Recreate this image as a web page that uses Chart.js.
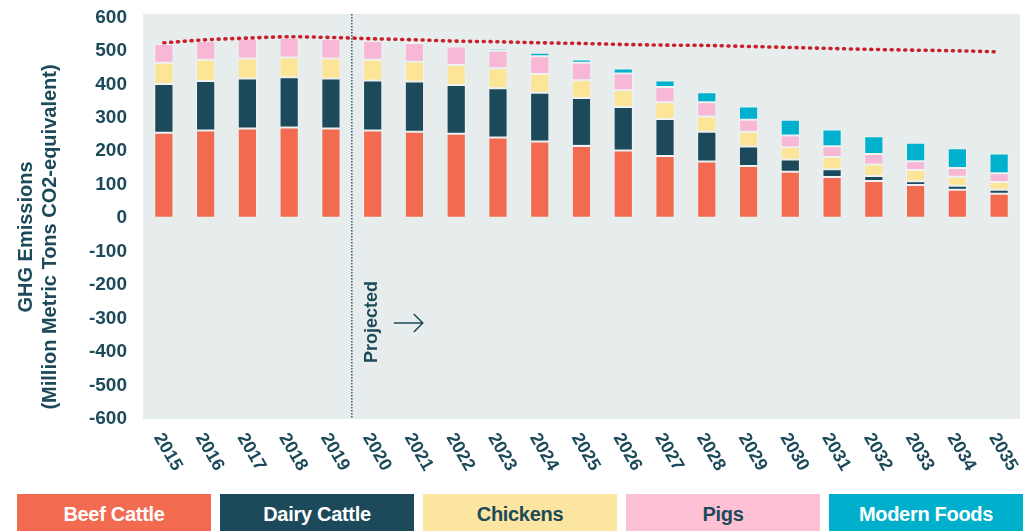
<!DOCTYPE html>
<html>
<head>
<meta charset="utf-8">
<script src="https://cdn.jsdelivr.net/npm/chart.js@4.4.1/dist/chart.umd.min.js"></script>
<style>
  html, body { margin: 0; padding: 0; background: #ffffff; }
  #wrap { position: relative; width: 1036px; height: 531px; overflow: hidden; background: #fff; }
  #chartBox { position: absolute; left: 0; top: 0; width: 1036px; height: 490px; }
  #legend { position: absolute; left: 17px; top: 494px; display: flex; gap: 9px; }
  .lg { width: 194px; height: 40px; display: flex; align-items: center; justify-content: center;
        font-family: "Liberation Sans", Arial, sans-serif; font-weight: bold; font-size: 20px; letter-spacing: -0.3px; }
</style>
</head>
<body>
<div id="wrap">
  <div id="chartBox"><canvas id="c"></canvas></div>
  <div id="legend"></div>
</div>
<script>
const categories = ['2015','2016','2017','2018','2019','2020','2021','2022','2023','2024','2025','2026','2027','2028','2029','2030','2031','2032','2033','2034','2035'];
const seriesNames = ['Beef Cattle','Dairy Cattle','Chickens','Pigs','Modern Foods'];
const beefCattle  = [255,262,268,271,268,262,258,252,241,229,216,202,186,169,156,139,123,111,99,85,73];
const dairyCattle = [146,148,149,150,149,149,150,146,147,146,143,130,110,89,58,36,23,15,11,12,12];
const chickens    = [63,63,60,59,60,62,59,60,60,56,53,50,50,46,44,37,37,34,34,27,23];
const pigs        = [56,56,60,59,59,56,56,55,52,53,52,50,46,42,36,35,32,32,26,26,26];
const modernFoods = [0,0,0,0,0,1,3,4,7,10,10,15,19,30,40,47,50,53,55,59,59];
const totalTrend  = [524,533,538,542,540,536,533,529,527,524,522,519,517,516,513,510,507,504,502,500,497];
const yTicks = [-600,-500,-400,-300,-200,-100,0,100,200,300,400,500,600];
const yTitle = ['GHG Emissions','(Million Metric Tons CO2-equivalent)'];
const projectedLabel = 'Projected';

const barColors = ['#F26A50','#1C4A5A','#FDE598','#F7B7D5','#00B1CD'];
const legendColors = ['#F26A50','#1C4A5A','#FBE5A0','#FEC0D5','#00AFCB'];
const legendText = ['#ffffff','#ffffff','#1C4A5A','#1C4A5A','#ffffff'];
const textColor = '#1C4A5A';
const FONT = '"Liberation Sans", Arial, sans-serif';

const seriesData = [beefCattle, dairyCattle, chickens, pigs, modernFoods];

const lg = document.getElementById('legend');
seriesNames.forEach((n, i) => {
  const d = document.createElement('div');
  d.className = 'lg';
  d.style.background = legendColors[i];
  d.style.color = legendText[i];
  d.textContent = n;
  lg.appendChild(d);
});

const bgPlugin = {
  id: 'bg',
  beforeDraw(chart) {
    const a = chart.chartArea, ctx = chart.ctx;
    ctx.save();
    ctx.fillStyle = '#E7EDED';
    ctx.fillRect(a.left, a.top, a.right - a.left, a.bottom - a.top);
    ctx.restore();
  },
  beforeDatasetsDraw(chart) {
    const a = chart.chartArea, ctx = chart.ctx, xs = chart.scales.x, ys = chart.scales.y;
    const xv = (xs.getPixelForValue(4) + xs.getPixelForValue(5)) / 2;
    ctx.save();
    ctx.strokeStyle = '#3F6572';
    ctx.lineWidth = 1.6;
    ctx.setLineDash([1.5, 1.5]);
    ctx.beginPath();
    ctx.moveTo(xv, a.top);
    ctx.lineTo(xv, a.bottom);
    ctx.stroke();
    ctx.setLineDash([]);
    const yMid = ys.getPixelForValue(-310);
    ctx.fillStyle = textColor;
    ctx.font = 'bold 18px ' + FONT;
    ctx.translate(xv + 20, yMid);
    ctx.rotate(-Math.PI / 2);
    ctx.textAlign = 'center';
    ctx.textBaseline = 'middle';
    ctx.fillText(projectedLabel, 0, 0);
    ctx.restore();
    ctx.save();
    ctx.strokeStyle = textColor;
    ctx.lineWidth = 1.5;
    const ax0 = xv + 42, ax1 = xv + 71, ay = yMid + 1;
    ctx.beginPath();
    ctx.moveTo(ax0, ay); ctx.lineTo(ax1, ay);
    ctx.moveTo(ax1 - 9, ay - 9); ctx.lineTo(ax1, ay); ctx.lineTo(ax1 - 9, ay + 9);
    ctx.stroke();
    ctx.restore();
  },
  afterDraw(chart) {
    const ctx = chart.ctx, a = chart.chartArea, xs = chart.scales.x;
    ctx.save();
    ctx.fillStyle = textColor;
    ctx.font = 'bold 18px ' + FONT;
    ctx.textAlign = 'center';
    ctx.textBaseline = 'middle';
    categories.forEach((c, i) => {
      const x = xs.getPixelForValue(i);
      ctx.save();
      ctx.translate(x + 4, a.bottom + 33);
      ctx.rotate(Math.PI / 3);
      ctx.fillText(c, 0, 0);
      ctx.restore();
    });
    ctx.font = 'bold 20px ' + FONT;
    const cy = 237;
    [26, 50].forEach((x, i) => {
      ctx.save();
      ctx.translate(x, cy);
      ctx.rotate(-Math.PI / 2);
      ctx.fillText(yTitle[i], 0, 0);
      ctx.restore();
    });
    ctx.restore();
  }
};

const datasets = seriesNames.map((n, i) => ({
  type: 'bar',
  label: n,
  data: seriesData[i],
  backgroundColor: barColors[i],
  borderColor: 'rgba(255,255,255,0.35)',
  borderWidth: 1,
  borderSkipped: false,
  barPercentage: 0.46,
  categoryPercentage: 1,
  order: 2
}));
datasets.push({
  type: 'line',
  label: 'Total',
  data: totalTrend,
  stack: 'trend',
  borderColor: '#C9202C',
  borderWidth: 3.6,
  borderDash: [1, 5.8],
  borderCapStyle: 'round',
  pointRadius: 0,
  tension: 0.4,
  cubicInterpolationMode: 'monotone',
  fill: false,
  order: 0
});

new Chart(document.getElementById('c'), {
  data: { labels: categories, datasets },
  plugins: [bgPlugin],
  options: {
    responsive: true,
    maintainAspectRatio: false,
    animation: false,
    layout: { padding: { top: 14, right: 16, left: 0, bottom: 0 } },
    plugins: { legend: { display: false }, tooltip: { enabled: false } },
    scales: {
      x: {
        stacked: true,
        grid: { display: false },
        border: { display: false },
        ticks: { display: false },
        afterFit(s) { s.height = 71; }
      },
      y: {
        stacked: true,
        min: -600,
        max: 610,
        grid: { display: true, drawOnChartArea: false, drawTicks: true, tickLength: 16, color: 'rgba(0,0,0,0)' },
        border: { display: false },
        afterBuildTicks(s) { s.ticks = yTicks.map(v => ({ value: v })); },
        ticks: {
          color: textColor,
          font: { family: FONT, weight: 'bold', size: 19 },
          padding: 0
        },
        afterFit(s) { s.width = 143; }
      }
    }
  }
});
</script>
</body>
</html>
